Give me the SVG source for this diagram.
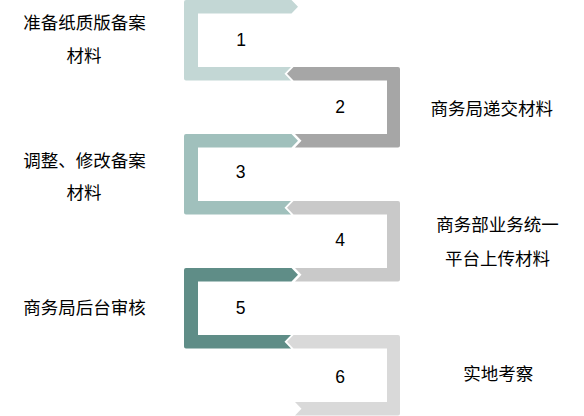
<svg xmlns="http://www.w3.org/2000/svg" width="584" height="416" viewBox="0 0 584 416">
<style>
.lbl{font-family:"Noto Sans CJK SC","Noto Sans",sans-serif;font-size:17.5px;fill:#000000;text-anchor:middle}
.num{font-family:"Liberation Sans",Arial,sans-serif;font-size:17.5px;fill:#000000;text-anchor:middle}
</style>
<rect width="584" height="416" fill="#ffffff"/>
<g id="connectors"></g>
<g id="step1">
<path fill="#c3d7d5" d="M184 2Q184 0 186 0L291.5 0L298 6.75L291.5 13.5L198 13.5L198 67L291 67L284.5 73.75L291 80.5L186 80.5Q184 80.5 184 78.5Z"/>
<text class="num" x="241" y="46">1</text>
<text class="lbl" x="84.5" y="29">准备纸质版备案</text>
<text class="lbl" x="84" y="62">材料</text>
</g>
<g id="step2">
<path fill="#a6a6a6" d="M293.5 67L398 67Q400 67 400 69L400 145.5Q400 147.5 398 147.5L295 147.5L301.5 140.75L295 134L387 134L387 80.5L293.5 80.5L287 73.75Z"/>
<text class="num" x="340" y="112.7">2</text>
<text class="lbl" x="491.7" y="114.5">商务局递交材料</text>
</g>
<g id="step3">
<path fill="#a0c0bc" d="M184 136Q184 134 186 134L291.5 134L298 140.75L291.5 147.5L198 147.5L198 201L291 201L284.5 207.75L291 214.5L186 214.5Q184 214.5 184 212.5Z"/>
<text class="num" x="240.7" y="177.7">3</text>
<text class="lbl" x="84.5" y="167">调整、修改备案</text>
<text class="lbl" x="84" y="199">材料</text>
</g>
<g id="step4">
<path fill="#c9c9c9" d="M293.5 201L398 201Q400 201 400 203L400 279.5Q400 281.5 398 281.5L295 281.5L301.5 274.75L295 268L387 268L387 214.5L293.5 214.5L287 207.75Z"/>
<text class="num" x="340" y="246">4</text>
<text class="lbl" x="497.5" y="230.5">商务部业务统一</text>
<text class="lbl" x="497.5" y="265">平台上传材料</text>
</g>
<g id="step5">
<path fill="#5f8d87" d="M184 270Q184 268 186 268L291.5 268L298 274.75L291.5 281.5L198 281.5L198 335L291 335L284.5 341.75L291 348.5L186 348.5Q184 348.5 184 346.5Z"/>
<text class="num" x="240.5" y="313.7">5</text>
<text class="lbl" x="84.5" y="314">商务局后台审核</text>
</g>
<g id="step6">
<path fill="#d9d9d9" d="M293.5 335L398 335Q400 335 400 337L400 413.5Q400 415.5 398 415.5L295 415.5L301.5 408.75L295 402L387 402L387 348.5L293.5 348.5L287 341.75Z"/>
<text class="num" x="340" y="382.5">6</text>
<text class="lbl" x="498.3" y="380">实地考察</text>
</g>
</svg>
